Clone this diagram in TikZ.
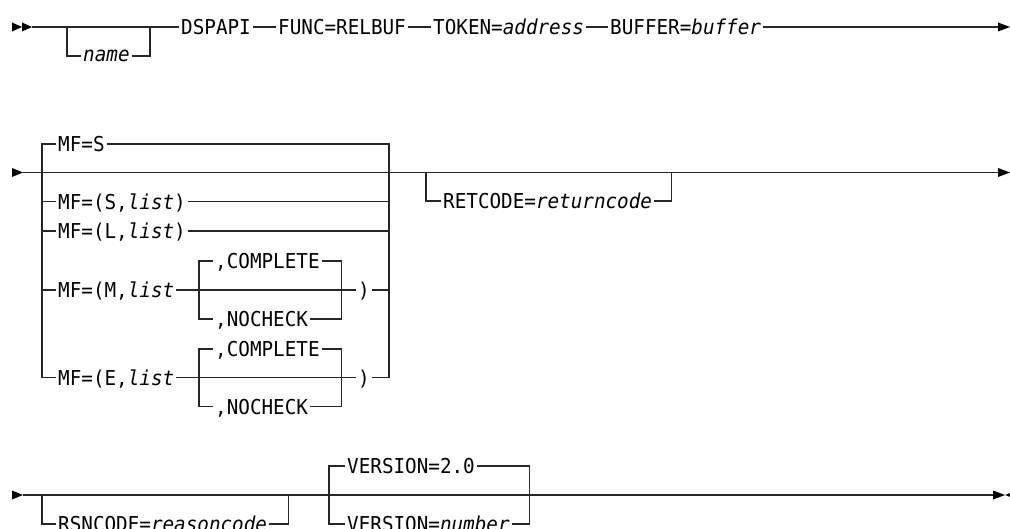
\documentclass[tikz,border=0pt]{standalone}
\usepackage{fontspec}
\setmainfont{DejaVu Sans Mono}[FakeStretch=0.94]
\begin{document}
\begin{tikzpicture}[x=1pt,y=-1pt,
  rail/.style={line width=1.1pt, draw=black!85},
  lbl/.style={inner xsep=2pt, inner ysep=0pt, anchor=west, text height=14.9pt, text depth=0pt, font=\fontsize{20.5}{24}\selectfont},
  lowlbl/.style={lbl, text height=11pt},
  tip/.style={fill=black, draw=none}]
\useasboundingbox (0,0) rectangle (1010,529);
\clip (0,0) rectangle (1010,529);

% ---------------- Row 1
\fill[tip] (12,22.5) -- (22,27) -- (12,31.5) -- cycle;
\fill[tip] (22,22.5) -- (32,27) -- (22,31.5) -- cycle;
\coordinate (s1) at (32,27);
\coordinate (n1) at (67,27);
\coordinate (n2) at (150,27);
\coordinate (e1) at (998,27);
\node[lowlbl] (name) at (81,56) {\itshape name};
\node[lbl] (dsp) at (179,27) {DSPAPI};
\node[lbl] (func) at (276,27) {FUNC=RELBUF};
\node[lbl] (tok) at (431,27) {TOKEN=\textit{address}};
\node[lbl] (buf) at (608,27) {BUFFER=\textit{buffer}};
\draw[rail] (s1) -- (dsp.west);
\draw[rail] (n1) |- (name.west);
\draw[rail] (name.east) -| (n2);
\draw[rail] (dsp.east) -- (func.west);
\draw[rail] (func.east) -- (tok.west);
\draw[rail] (tok.east) -- (buf.west);
\draw[rail] (buf.east) -- (e1);
\fill[tip] (998,22.5) -- (1010,27) -- (998,31.5) -- cycle;

% ---------------- Row 2
\fill[tip] (12,168) -- (23,172.5) -- (12,177) -- cycle;
\coordinate (s2) at (23,172.5);
\coordinate (e2) at (998,172.5);
\coordinate (gL) at (42,172.5);
\coordinate (gR) at (389,172.5);
\node[lbl] (mfS) at (56,144) {MF=S};
\node[lbl] (mfSl) at (56,201.7) {MF=(S,\textit{list})};
\node[lbl] (mfLl) at (56,231) {MF=(L,\textit{list})};
\node[lbl] (mfM) at (56,290) {MF=(M,\textit{list}};
\node[lbl] (cM) at (213,261) {,COMPLETE};
\node[lbl] (nM) at (213,319) {,NOCHECK};
\coordinate (mL) at (199,290);
\coordinate (mR) at (341.7,290);
\node[lbl] (rpM) at (356,290) {)};
\node[lbl] (mfE) at (56,377.7) {MF=(E,\textit{list}};
\node[lbl] (cE) at (213,349) {,COMPLETE};
\node[lbl] (nE) at (213,406.7) {,NOCHECK};
\coordinate (eL) at (199,377.7);
\coordinate (eR) at (341.7,377.7);
\node[lbl] (rpE) at (356,377.7) {)};

\draw[rail] (s2) -- (e2);
\draw[rail] (mfS.west) -| (gL |- mfE.west) -- (mfE.west);
\draw[rail] (mfS.east) -| (gR |- rpE.east) -- (rpE.east);
\draw[rail] (mfSl.west) -- (gL |- mfSl.west);
\draw[rail] (mfSl.east) -- (gR |- mfSl.east);
\draw[rail] (mfLl.west) -- (gL |- mfLl.west);
\draw[rail] (mfLl.east) -- (gR |- mfLl.east);
\draw[rail] (mfM.west) -- (gL |- mfM.west);
\draw[rail] (mfM.east) -- (rpM.west);
\draw[rail] (rpM.east) -- (gR |- rpM.east);
\draw[rail] (cM.west) -| (mL |- nM.west) -- (nM.west);
\draw[rail] (cM.east) -| (mR |- nM.east) -- (nM.east);
\draw[rail] (mfE.east) -- (rpE.west);
\draw[rail] (cE.west) -| (eL |- nE.west) -- (nE.west);
\draw[rail] (cE.east) -| (eR |- nE.east) -- (nE.east);

\coordinate (rL) at (426,172.5);
\node[lbl] (ret) at (441,201) {RETCODE=\textit{returncode}};
\draw[rail] (rL) |- (ret.west);
\draw[rail] (ret.east) -| ([xshift=17pt]ret.east |- rL);
\fill[tip] (998,168) -- (1010,172.5) -- (998,177) -- cycle;

% ---------------- Row 3
\fill[tip] (12,490.5) -- (23,495) -- (12,499.5) -- cycle;
\coordinate (s3) at (23,495);
\coordinate (e3) at (993,495);
\coordinate (qL) at (42,495);
\node[lbl] (rsn) at (56,524) {RSNCODE=\textit{reasoncode}};
\draw[rail] (s3) -- (e3);
\draw[rail] (qL) |- (rsn.west);
\draw[rail] (rsn.east) -| ([xshift=19pt]rsn.east |- qL);
\coordinate (vL) at (329,495);
\node[lbl] (v20) at (345,466) {VERSION=2.0};
\node[lbl] (vn) at (345,524) {VERSION=\textit{number}};
\path ([xshift=18pt]vn.east |- vL) coordinate (vR);
\draw[rail] (v20.west) -| (vL |- vn.west) -- (vn.west);
\draw[rail] (v20.east) -| (vR |- vn.east) -- (vn.east);
\fill[tip] (993,490.5) -- (1005,495) -- (993,499.5) -- cycle;
\fill[tip] (1017,490.5) -- (1005,495) -- (1017,499.5) -- cycle;
\end{tikzpicture}
\end{document}
